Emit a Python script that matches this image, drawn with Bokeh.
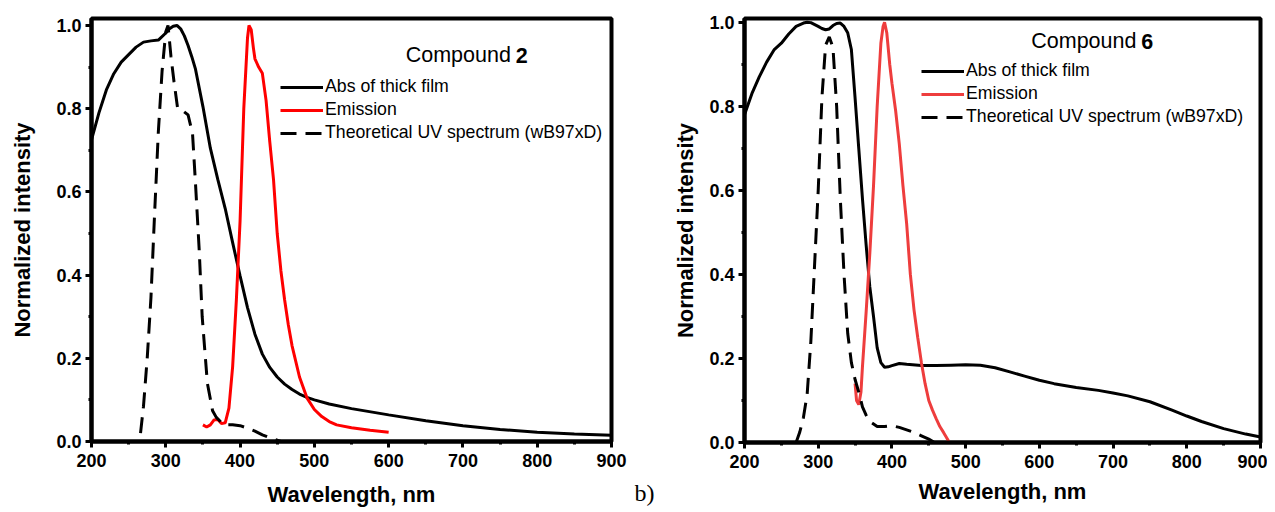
from bokeh.plotting import figure
from bokeh.layouts import row
from bokeh.models import (SingleIntervalTicker, NumeralTickFormatter, Legend, LegendItem, Label)
from bokeh.embed import file_html
from bokeh.resources import INLINE

# ---------------- Compound 2 ----------------
abs2_x = [200, 210, 220, 230, 240, 250, 260, 270, 280, 290, 300, 305, 310, 315, 320, 325, 330, 335, 340,
          350, 360, 370, 380, 390, 400, 410, 420, 430, 440, 450, 460, 470, 480, 490, 500, 520, 550, 600,
          650, 700, 750, 800, 850, 900]
abs2_y = [0.725, 0.79, 0.845, 0.884, 0.912, 0.930, 0.948, 0.960, 0.963, 0.965, 0.982, 0.992, 0.998, 1.0,
          0.992, 0.975, 0.952, 0.925, 0.895, 0.805, 0.705, 0.630, 0.560, 0.478, 0.398, 0.322, 0.258, 0.210,
          0.178, 0.155, 0.138, 0.125, 0.114, 0.106, 0.100, 0.090, 0.079, 0.064, 0.050, 0.038, 0.029, 0.022,
          0.018, 0.015]

em2_x = [350, 355, 360, 365, 370, 375, 380, 385, 390, 395, 400, 405, 410, 412, 415, 418, 420, 425, 430, 435,
         440, 445, 450, 455, 460, 465, 470, 480, 490, 500, 510, 520, 530, 550, 575, 600]
em2_y = [0.040, 0.035, 0.040, 0.052, 0.053, 0.043, 0.045, 0.08, 0.18, 0.34, 0.53, 0.80, 0.97, 1.0, 0.99,
         0.945, 0.92, 0.90, 0.885, 0.82, 0.72, 0.63, 0.50, 0.41, 0.34, 0.28, 0.23, 0.155, 0.105, 0.077,
         0.060, 0.048, 0.040, 0.033, 0.027, 0.022]

th2_x = [266, 270, 275, 280, 285, 290, 295, 300, 303, 307, 311, 316, 323, 330, 336, 340, 345, 349, 356, 363,
         368, 378, 390, 400, 410, 420, 430, 440, 450, 455]
th2_y = [0.02, 0.085, 0.20, 0.345, 0.55, 0.745, 0.89, 0.985, 1.0, 0.925, 0.866, 0.80, 0.795, 0.785, 0.74,
         0.62, 0.46, 0.30, 0.14, 0.074, 0.058, 0.04, 0.04, 0.038, 0.032, 0.025, 0.016, 0.009, 0.003, 0.0]

# ---------------- Compound 6 ----------------
abs6_x = [200, 210, 220, 230, 240, 250, 260, 270, 280, 285, 290, 300, 305, 310, 315, 320, 325, 330, 335, 340,
          345, 350, 355, 360, 365, 370, 375, 380, 385, 390, 395, 400, 410, 420, 440, 460, 480, 500, 520, 540,
          560, 580, 600, 620, 650, 680, 700, 720, 750, 780, 800, 820, 850, 880, 900]
abs6_y = [0.78, 0.83, 0.87, 0.905, 0.934, 0.950, 0.972, 0.99, 0.998, 1.0, 0.999, 0.99, 0.985, 0.982, 0.984,
          0.992, 0.997, 0.998, 0.99, 0.975, 0.935, 0.82, 0.70, 0.58, 0.47, 0.37, 0.30, 0.225, 0.19, 0.179,
          0.180, 0.183, 0.188, 0.186, 0.183, 0.183, 0.184, 0.185, 0.184, 0.178, 0.168, 0.158, 0.148, 0.140,
          0.131, 0.124, 0.118, 0.111, 0.097, 0.077, 0.063, 0.050, 0.033, 0.020, 0.013]

em6_x = [350, 352, 355, 358, 360, 365, 370, 375, 380, 385, 388, 390, 393, 397, 400, 405, 410, 415, 420, 425,
         430, 435, 440, 445, 450, 455, 460, 465, 470, 477]
em6_y = [0.14, 0.10, 0.09, 0.12, 0.18, 0.31, 0.45, 0.61, 0.80, 0.95, 0.99, 1.0, 0.975, 0.90, 0.855, 0.79,
         0.71, 0.61, 0.52, 0.40, 0.315, 0.25, 0.19, 0.14, 0.10, 0.077, 0.057, 0.038, 0.024, 0.003]

th6_x = [270, 275, 280, 285, 290, 295, 300, 305, 310, 315, 320, 325, 330, 335, 340, 345, 350, 355, 360, 365,
         370, 380, 390, 400, 410, 420, 430, 440, 450, 458]
th6_y = [0.0, 0.025, 0.06, 0.115, 0.24, 0.42, 0.60, 0.82, 0.945, 0.965, 0.94, 0.80, 0.58, 0.40, 0.26, 0.19,
         0.15, 0.12, 0.085, 0.065, 0.05, 0.038, 0.038, 0.040, 0.036, 0.03, 0.024, 0.016, 0.008, 0.0]

x_ticks = [200, 300, 400, 500, 600, 700, 800, 900]
y_ticks = [0.0, 0.2, 0.4, 0.6, 0.8, 1.0]
legend_labels = ["Abs of thick film", "Emission", "Theoretical UV spectrum (wB97xD)"]
panel_tag = "b)"

FONT = "Liberation Sans"
DASH = "16 9"


def style(p, ylab_standoff, xlab_standoff):
    p.xgrid.visible = False
    p.ygrid.visible = False
    p.outline_line_color = "black"
    p.outline_line_width = 4
    p.outline_line_alpha = 1
    p.background_fill_color = "white"
    p.border_fill_color = "white"
    p.xaxis.ticker = SingleIntervalTicker(interval=x_ticks[1] - x_ticks[0], num_minor_ticks=2)
    p.yaxis.ticker = SingleIntervalTicker(interval=y_ticks[1] - y_ticks[0], num_minor_ticks=2)
    p.yaxis.formatter = NumeralTickFormatter(format="0.0")
    for ax in (p.xaxis[0], p.yaxis[0]):
        ax.axis_line_width = 4
        ax.axis_line_color = "black"
        ax.major_tick_line_width = 3
        ax.major_tick_out = 6
        ax.major_tick_in = 0
        ax.minor_tick_line_width = 3
        ax.minor_tick_out = 3
        ax.minor_tick_in = 0
        ax.major_label_text_font = FONT
        ax.major_label_text_font_style = "bold"
        ax.major_label_text_font_size = "18px"
        ax.major_label_text_color = "black"
        ax.axis_label_text_font = FONT
        ax.axis_label_text_font_style = "bold"
        ax.axis_label_text_font_size = "22px"
        ax.axis_label_text_color = "black"
    p.xaxis.major_label_standoff = 6
    p.yaxis.major_label_standoff = 4
    p.xaxis.axis_label = "Wavelength, nm"
    p.yaxis.axis_label = "Normalized intensity"
    p.yaxis.axis_label_standoff = ylab_standoff
    p.xaxis.axis_label_standoff = xlab_standoff


def make_panel(ax_x, ax_y, ex, ey, tx, ty, red, fw, fh, yend, mbl, mbr, mbt, mbb,
               ylab_standoff, xlab_standoff, leg_loc, comp_x, comp_y, comp_num):
    p = figure(frame_width=fw, frame_height=fh, x_range=(200, 900), y_range=(0, yend),
               min_border_left=mbl, min_border_right=mbr, min_border_top=mbt, min_border_bottom=mbb,
               output_backend="svg", toolbar_location=None)
    style(p, ylab_standoff, xlab_standoff)
    r1 = p.line(ax_x, ax_y, line_color="black", line_width=3)
    r2 = p.line(ex, ey, line_color=red, line_width=3)
    r3 = p.line(tx, ty, line_color="black", line_width=3, line_dash=DASH)
    leg = Legend(items=[LegendItem(label=legend_labels[0], renderers=[r1]),
                        LegendItem(label=legend_labels[1], renderers=[r2]),
                        LegendItem(label=legend_labels[2], renderers=[r3])],
                 location=leg_loc, glyph_width=43, glyph_height=20, label_height=20,
                 label_standoff=2, spacing=2, padding=0, margin=0,
                 border_line_alpha=0, background_fill_alpha=0,
                 label_text_font=FONT, label_text_font_size="17.7px", label_text_color="black")
    p.add_layout(leg)
    p.add_layout(Label(x=comp_x, y=comp_y, text="Compound ", text_font=FONT, text_font_size="21.5px",
                       text_baseline="middle", text_align="left", text_color="black"))
    p.add_layout(Label(x=comp_x, y=comp_y, x_offset=110, text=comp_num, text_font=FONT,
                       text_font_size="21.5px", text_font_style="bold",
                       text_baseline="middle", text_align="left", text_color="black"))
    return p


p1 = make_panel(abs2_x, abs2_y, em2_x, em2_y, th2_x, th2_y, "#ff0000",
                520, 423, 1.0168, 91, 23, 18, 63, 18, 12, (189, 298), 623, 0.929, "2")

# narrow strip holding the panel tag "b)"
tag = figure(frame_width=26, frame_height=490, x_range=(0, 1), y_range=(0, 1),
             min_border_left=0, min_border_right=0, min_border_top=18, min_border_bottom=0,
             x_axis_location=None, y_axis_location=None, output_backend="svg", toolbar_location=None)
tag.outline_line_color = None
tag.xgrid.visible = False
tag.ygrid.visible = False
tag.background_fill_color = "white"
tag.border_fill_color = "white"
tag.add_layout(Label(x=0, y=0.031, text=panel_tag, text_font="Liberation Serif", text_font_size="24px",
                     text_baseline="middle", text_align="left", text_color="black"))

p2 = make_panel(abs6_x, abs6_y, em6_x, em6_y, th6_x, th6_y, "#ee3d3d",
                516, 424, 1.0088, 84, 7, 18, 62, 8, 8, (177, 315), 589, 0.955, "6")

layout = row(p1, tag, p2)
open("out.html", "w").write(file_html(layout, INLINE))
